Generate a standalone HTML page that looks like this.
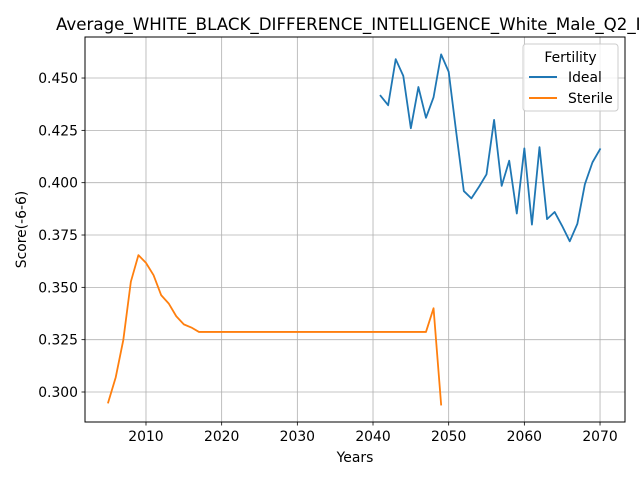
<!DOCTYPE html>
<html><head><meta charset="utf-8"><style>
html,body{margin:0;padding:0;background:#fff;}
svg{display:block;font-family:"DejaVu Sans","Liberation Sans",sans-serif;}
</style></head><body>
<svg id="chart" width="640" height="480" viewBox="0 0 640 480" xmlns="http://www.w3.org/2000/svg">
<rect x="0" y="0" width="640" height="480" fill="#fff"/>
<text x="56" y="30" font-size="16.67" fill="#000">Average_WHITE_BLACK_DIFFERENCE_INTELLIGENCE_White_Male_Q2_IQ</text>
<g id="grid"></g>
<g id="series"></g>
<rect x="85" y="37" width="540" height="385" fill="none" stroke="#000" stroke-width="1"/>
<g id="ticks"></g>
<text x="355" y="462" font-size="13.9" text-anchor="middle">Years</text>
<text x="26" y="229.5" font-size="13.9" text-anchor="middle" transform="rotate(-90 26 229.5)">Score(-6-6)</text>
<g>
<rect x="523" y="44" width="95" height="67" rx="3" fill="#fff" fill-opacity="0.8" stroke="#ccc"/>
<text x="570.5" y="62" font-size="13.9" text-anchor="middle">Fertility</text>
<line x1="529" y1="77" x2="557" y2="77" stroke="#1f77b4" stroke-width="2"/>
<text x="568" y="82" font-size="13.9">Ideal</text>
<line x1="529" y1="98" x2="557" y2="98" stroke="#ff7f0e" stroke-width="2"/>
<text x="568" y="103" font-size="13.9">Sterile</text>
</g>
</svg>
<script>
const xTicks = [2010, 2020, 2030, 2040, 2050, 2060, 2070];
const yTicks = [0.300, 0.325, 0.350, 0.375, 0.400, 0.425, 0.450];
const yTickLabels = ["0.300","0.325","0.350","0.375","0.400","0.425","0.450"];
const idealYears = [2041,2042,2043,2044,2045,2046,2047,2048,2049,2050,2051,2052,2053,2054,2055,2056,2057,2058,2059,2060,2061,2062,2063,2064,2065,2066,2067,2068,2069,2070];
const idealValues = [0.4415,0.437,0.459,0.451,0.426,0.4457,0.431,0.4408,0.4613,0.453,0.424,0.396,0.3925,0.398,0.404,0.430,0.3985,0.4105,0.3853,0.4164,0.380,0.417,0.3826,0.386,0.3793,0.372,0.3803,0.3993,0.4097,0.416];
const sterileYears = [2005,2006,2007,2008,2009,2010,2011,2012,2013,2014,2015,2016,2017,2018,2019,2020,2021,2022,2023,2024,2025,2026,2027,2028,2029,2030,2031,2032,2033,2034,2035,2036,2037,2038,2039,2040,2041,2042,2043,2044,2045,2046,2047,2048,2049];
const sterileValues = [0.295,0.307,0.3248,0.3527,0.3654,0.3617,0.3558,0.3463,0.3423,0.3362,0.3323,0.3308,0.3287,0.3287,0.3287,0.3287,0.3287,0.3287,0.3287,0.3287,0.3287,0.3287,0.3287,0.3287,0.3287,0.3287,0.3287,0.3287,0.3287,0.3287,0.3287,0.3287,0.3287,0.3287,0.3287,0.3287,0.3287,0.3287,0.3287,0.3287,0.3287,0.3287,0.3287,0.340,0.294];

const NS = "http://www.w3.org/2000/svg";
const L = 85, R = 625, T = 37, B = 422;
const xMin = 2001.94, xMax = 2073.3, yMin = 0.28567, yMax = 0.4696;
function xs(v){ return L + (v - xMin) / (xMax - xMin) * (R - L); }
function ys(v){ return B - (v - yMin) / (yMax - yMin) * (B - T); }
function mk(tag, attrs){ const e = document.createElementNS(NS, tag); for (const k in attrs) e.setAttribute(k, attrs[k]); return e; }
const grid = document.getElementById('grid');
const ticks = document.getElementById('ticks');
const series = document.getElementById('series');
xTicks.forEach(t => {
  const x = xs(t);
  const g = mk('line', {x1:x, y1:T, x2:x, y2:B, stroke:'#b0b0b0', 'stroke-width':0.8});
  
  
  grid.appendChild(g);
  const tk = mk('line', {x1:x, y1:B, x2:x, y2:B+3.5, stroke:'#000', 'stroke-width':0.8});
  
  
  ticks.appendChild(tk);
  const tx = mk('text', {x:x, y:B+19, 'font-size':13.9, 'text-anchor':'middle'});
  tx.textContent = String(t);
  
  
  ticks.appendChild(tx);
});
yTicks.forEach((t, i) => {
  const y = ys(t);
  const g = mk('line', {x1:L, y1:y, x2:R, y2:y, stroke:'#b0b0b0', 'stroke-width':0.8});
  
  
  grid.appendChild(g);
  const tk = mk('line', {x1:L-3.5, y1:y, x2:L, y2:y, stroke:'#000', 'stroke-width':0.8});
  
  
  ticks.appendChild(tk);
  const tx = mk('text', {x:L-7, y:y+5, 'font-size':13.9, 'text-anchor':'end'});
  tx.textContent = yTickLabels[i];
  
  
  ticks.appendChild(tx);
});
function drawLine(xsArr, vals, color, name){
  const pts = xsArr.map((x, i) => xs(x).toFixed(2) + ',' + ys(vals[i]).toFixed(2)).join(' ');
  const p = mk('polyline', {points:pts, fill:'none', stroke:color, 'stroke-width':1.8, 'stroke-linejoin':'round', 'stroke-linecap':'square'});
  
  
  series.appendChild(p);
}
drawLine(idealYears, idealValues, '#1f77b4', 'ideal-line');
drawLine(sterileYears, sterileValues, '#ff7f0e', 'sterile-line');
</script>
</body></html>
